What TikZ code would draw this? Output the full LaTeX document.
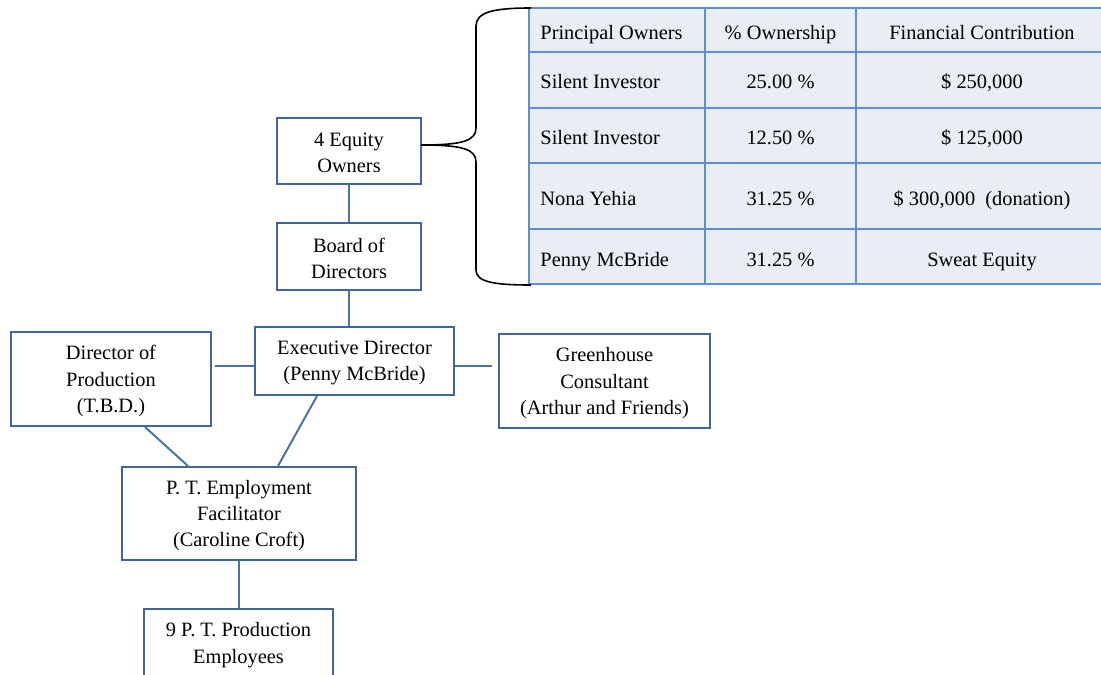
\documentclass[tikz,border=0pt]{standalone}
\usepackage{fontspec}
\setmainfont{Liberation Serif}
\definecolor{boxblue}{HTML}{3F679B}
\definecolor{lineblue}{HTML}{4A74A8}
\definecolor{tabline}{HTML}{5E8FD0}
\definecolor{tabfill}{HTML}{E9EDF4}
\begin{document}
\begin{tikzpicture}[x=0.5pt,y=-0.5pt, font=\fontsize{10.2}{13.2}\selectfont,
  orgbox/.style={draw=boxblue, line width=1pt, fill=white, inner sep=0pt},
  boxtext/.style={align=center, inner sep=0pt},
  conn/.style={draw=lineblue, line width=1pt},
  cell/.style={inner sep=0pt, anchor=base},
  lcell/.style={inner sep=0pt, anchor=base west},
  tabrule/.style={draw=tabline, line width=1pt}]
\useasboundingbox (0,0) rectangle (1101,674);
\clip (0,0) rectangle (1101,674);

% table
\fill[tabfill] (529,8) rectangle (1110,284);
\foreach \yy in {8,52,108,163,229,284} \draw[tabrule] (529,\yy) -- (1110,\yy);
\foreach \xx in {529,705,856} \draw[tabrule] (\xx,8) -- (\xx,284);

\node[lcell] (h1) at (540,39.5) {Principal Owners};
\node[cell] (h2) at (780.5,39.5) {\% Ownership};
\node[cell] (h3) at (982,39.5) {Financial Contribution};

\node[lcell] (a1) at (540,89) {Silent Investor};
\node[cell] (b1) at (780.5,89) {25.00 \%};
\node[cell] (c1) at (982,89) {\$ 250,000};

\node[lcell] (a2) at (540,144) {Silent Investor};
\node[cell] (b2) at (780.5,144) {12.50 \%};
\node[cell] (c2) at (982,144) {\$ 125,000};

\node[lcell] (a3) at (540,205) {Nona Yehia};
\node[cell] (b3) at (780.5,205) {31.25 \%};
\node[cell] (c3) at (982,205) {\$ 300,000\hspace{0.25em} (donation)};

\node[lcell] (a4) at (540,266.5) {Penny McBride};
\node[cell] (b4) at (780.5,266.5) {31.25 \%};
\node[cell] (c4) at (982,266.5) {Sweat Equity};

% org boxes
\node[orgbox, minimum width=72pt, minimum height=33pt] (eq) at (349,151) {};
\node[orgbox, minimum width=72pt, minimum height=33.5pt] (board) at (349,256.5) {};
\node[orgbox, minimum width=99.5pt, minimum height=34pt] (exec) at (354.5,361) {};
\node[orgbox, minimum width=100pt, minimum height=47pt] (dop) at (111,379) {};
\node[orgbox, minimum width=105.5pt, minimum height=47pt] (gh) at (604.5,381) {};
\node[orgbox, minimum width=117pt, minimum height=46.5pt] (ptef) at (239,513.5) {};
\node[orgbox, minimum width=94.5pt, minimum height=34pt] (nine) at (238.5,643) {};

\node[boxtext] (eqt) at ([yshift=-1pt]eq.center) {4 Equity\\Owners};
\node[boxtext] (boardt) at ([yshift=-1pt]board.center) {Board of\\Directors};
\node[boxtext] (exect) at ([yshift=-1pt]exec.center) {Executive Director\\(Penny McBride)};
\node[boxtext] (dopt) at ([yshift=-1pt]dop.center) {Director of\\Production\\(T.B.D.)};
\node[boxtext] (ght) at ([yshift=-1.2pt]gh.center) {Greenhouse\\Consultant\\(Arthur and Friends)};
\node[boxtext] (pteft) at ([yshift=-1pt]ptef.center) {P. T. Employment\\Facilitator\\(Caroline Croft)};
\node[boxtext] (ninet) at ([yshift=-1pt]nine.center) {9 P. T. Production\\Employees};

% brace
\coordinate (bracetip) at (421,145);
\draw[black, line width=0.8pt] (531,8) .. controls (494,8) and (476,12) .. (476,26) -- (476,128)
  .. controls (476,141) and (462,145) .. (bracetip)
  .. controls (462,145) and (476,149) .. (476,162) -- (476,270)
  .. controls (476,282) and (494,285) .. (531,285);

% connectors
\draw[conn] (eq.south) -- (board.north);
\draw[conn] (board.south) -- (board.south |- exec.north);
\coordinate (ed1) at ([yshift=-2.5pt]exec.west);
\coordinate (ed2) at ([yshift=-2.5pt]exec.east);
\draw[conn] (ed1) -- ([xshift=1.5pt]ed1 -| dop.east);
\draw[conn] (ed2) -- ([xshift=-3pt]ed2 -| gh.west);
\draw[conn] ([xshift=17pt]dop.south) -- ([xshift=-25.5pt]ptef.north);
\draw[conn] ([xshift=-18.75pt]exec.south) -- ([xshift=19.5pt]ptef.north);
\draw[conn] (ptef.south) -- (ptef.south |- nine.north);
\end{tikzpicture}
\end{document}
